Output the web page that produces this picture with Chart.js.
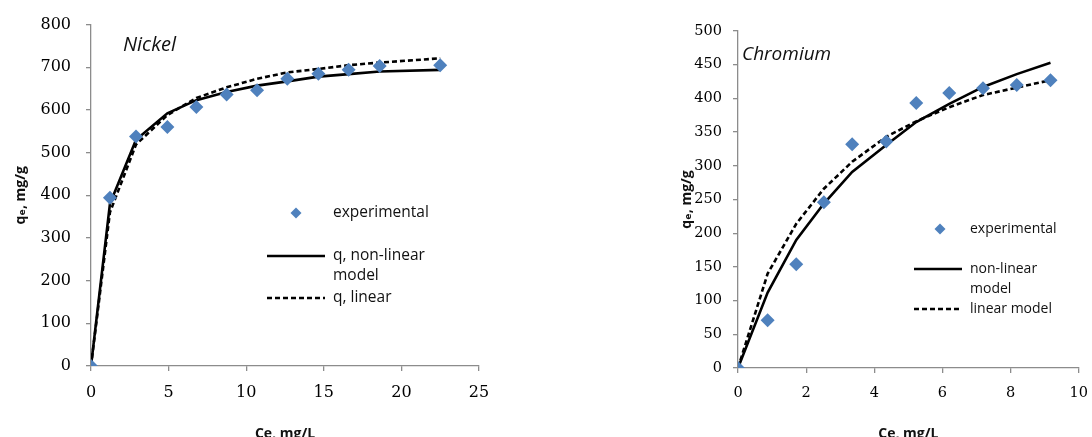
<!DOCTYPE html>
<html>
<head>
<meta charset="utf-8">
<script src="https://cdn.jsdelivr.net/npm/chart.js@4/dist/chart.umd.min.js"></script>
<style>
  html, body { margin: 0; padding: 0; background: #fff; overflow: hidden; width: 1092px; height: 437px; }
  .box { position: absolute; top: 0; height: 445px; }
  #nickelBox { left: 0; width: 560px; }
  #chromiumBox { left: 560px; width: 540px; }
</style>
</head>
<body>
<div class="box" id="nickelBox"><canvas id="nickelChart"></canvas></div>
<div class="box" id="chromiumBox"><canvas id="chromiumChart"></canvas></div>
<script>
// Nickel
const nickelCe = [0, 1.22, 2.9, 4.92, 6.79, 8.74, 10.7, 12.65, 14.65, 16.6, 18.6, 22.5];
const nickelExp = [0, 394, 538, 560, 607, 636, 646, 673, 685, 694, 703, 705];
const nickelNonLinear = [0, 380, 530, 592, 623, 642, 657, 667, 678, 684, 690, 694];
const nickelLinear = [0, 360, 519, 588, 628, 653, 673, 688, 696, 705, 711, 721];
const nickelXTicks = [0, 5, 10, 15, 20, 25];
const nickelYTicks = [0, 100, 200, 300, 400, 500, 600, 700, 800];

// Chromium
const chromiumCe = [0, 0.87, 1.71, 2.52, 3.35, 4.35, 5.23, 6.2, 7.19, 8.18, 9.17];
const chromiumExp = [0, 71, 154, 246, 332, 336, 393, 408, 415, 420, 427];
const chromiumNonLinear = [0, 112, 190, 244, 291, 331, 365, 392, 417, 436, 453];
const chromiumLinear = [0, 140, 214, 266, 306, 343, 366, 387, 405, 416, 427];
const chromiumXTicks = [0, 2, 4, 6, 8, 10];
const chromiumYTicks = [0, 50, 100, 150, 200, 250, 300, 350, 400, 450, 500];

const pts = (xs, ys) => xs.map((x, i) => ({ x: x, y: ys[i] }));
const axisGray = '#8c8c8c';
const markerBlue = '#4f81bd';

// draws the italic metal name and the in-plot legend
const overlayPlugin = {
  id: 'overlay',
  afterDraw(chart, args, opts) {
    const ctx = chart.ctx;
    ctx.save();
    ctx.fillStyle = '#111';
    ctx.textBaseline = 'middle';
    ctx.textAlign = 'left';
    ctx.font = 'italic ' + opts.titleSize + 'px "Open Sans"';
    ctx.fillText(opts.title, opts.titleX, opts.titleY);

    const lg = opts.legend;
    ctx.font = lg.size + 'px "Open Sans"';
    // experimental marker
    ctx.fillStyle = markerBlue;
    ctx.beginPath();
    ctx.moveTo(lg.markerX, lg.rows[0] - 5.5);
    ctx.lineTo(lg.markerX + 5.5, lg.rows[0]);
    ctx.lineTo(lg.markerX, lg.rows[0] + 5.5);
    ctx.lineTo(lg.markerX - 5.5, lg.rows[0]);
    ctx.closePath();
    ctx.fill();
    ctx.fillStyle = '#111';
    ctx.fillText('experimental', lg.textX, lg.rows[0]);

    ctx.strokeStyle = '#000';
    ctx.lineWidth = 2.5;
    ctx.beginPath();
    ctx.moveTo(lg.lineX0, lg.rows[1]);
    ctx.lineTo(lg.lineX1, lg.rows[1]);
    ctx.stroke();
    ctx.fillText(lg.labels[0], lg.textX, lg.rows[1]);
    ctx.fillText('model', lg.textX, lg.rows[2]);

    ctx.setLineDash([5, 3]);
    ctx.beginPath();
    ctx.moveTo(lg.lineX0, lg.rows[3]);
    ctx.lineTo(lg.lineX1, lg.rows[3]);
    ctx.stroke();
    ctx.setLineDash([]);
    ctx.fillText(lg.labels[1], lg.textX, lg.rows[3]);
    ctx.restore();
  }
};

const makeChart = (canvasId, cfg) => {
  const canvas = document.getElementById(canvasId);
  if (!canvas) {
    console.warn('Canvas ' + canvasId + ' not found.');
    return;
  }
  new Chart(canvas.getContext('2d'), {
    type: 'scatter',
    data: {
      datasets: [
        {
          label: 'experimental',
          data: pts(cfg.xs, cfg.exp),
          pointStyle: 'rectRot',
          pointRadius: 7,
          backgroundColor: markerBlue,
          borderColor: markerBlue,
          borderWidth: 0,
          showLine: false,
          order: 0,
        },
        {
          label: 'non-linear model',
          data: pts(cfg.xs, cfg.nonLinear),
          showLine: true,
          borderColor: '#000',
          borderWidth: 2.6,
          pointRadius: 0,
          tension: 0,
          order: 1,
        },
        {
          label: 'linear model',
          data: pts(cfg.xs, cfg.linear),
          showLine: true,
          borderColor: '#000',
          borderWidth: 2.6,
          borderDash: [5, 3],
          pointRadius: 0,
          tension: 0,
          order: 2,
        },
      ],
    },
    options: {
      responsive: true,
      maintainAspectRatio: false,
      animation: false,
      events: [],
      layout: { padding: cfg.padding },
      plugins: {
        legend: { display: false },
        tooltip: { enabled: false },
        overlay: cfg.overlay,
      },
      scales: {
        x: {
          type: 'linear',
          min: cfg.xTicks[0],
          max: cfg.xTicks[cfg.xTicks.length - 1],
          afterBuildTicks: (s) => { s.ticks = cfg.xTicks.map((v) => ({ value: v })); },
          afterFit: (s) => { s.height = cfg.xAxisHeight; },
          border: { color: axisGray, width: 1.3 },
          grid: { drawOnChartArea: false, color: axisGray, tickLength: 5, lineWidth: 1.3 },
          ticks: { color: '#000', padding: 12, font: { family: 'DejaVu Serif', size: cfg.tickSize }, maxRotation: 0 },
          title: {
            display: true,
            text: 'Ce, mg/L',
            color: '#111',
            font: { family: 'Open Sans', size: 14, weight: 'bold' },
            padding: { top: 0, bottom: 3 },
          },
        },
        y: {
          type: 'linear',
          min: cfg.yTicks[0],
          max: cfg.yTicks[cfg.yTicks.length - 1],
          afterBuildTicks: (s) => { s.ticks = cfg.yTicks.map((v) => ({ value: v })); },
          afterFit: (s) => { s.width = cfg.yAxisWidth; },
          border: { color: axisGray, width: 1.3 },
          grid: { drawOnChartArea: false, color: axisGray, tickLength: 5, lineWidth: 1.3 },
          ticks: { color: '#000', padding: cfg.yTickPad, font: { family: 'DejaVu Serif', size: cfg.tickSize } },
          title: {
            display: true,
            text: 'qₑ, mg/g',
            color: '#111',
            font: { family: '"Open Sans", "DejaVu Sans"', size: 14, weight: 'bold' },
            padding: { top: cfg.yTitlePad, bottom: 0 },
          },
        },
      },
    },
    plugins: [overlayPlugin],
  });
};

document.addEventListener('DOMContentLoaded', () => {
  makeChart('nickelChart', {
    xs: nickelCe, exp: nickelExp, nonLinear: nickelNonLinear, linear: nickelLinear,
    xTicks: nickelXTicks, yTicks: nickelYTicks,
    padding: { left: 0, right: 81, top: 20, bottom: 0 },
    xAxisHeight: 79, yAxisWidth: 91, yTickPad: 15, yTitlePad: 13, tickSize: 16,
    overlay: {
      title: 'Nickel', titleX: 123, titleY: 45, titleSize: 20,
      legend: {
        size: 15.5, markerX: 296, textX: 333, lineX0: 267, lineX1: 325,
        rows: [213, 256, 276, 298], labels: ['q, non-linear', 'q, linear'],
      },
    },
  });

  makeChart('chromiumChart', {
    xs: chromiumCe, exp: chromiumExp, nonLinear: chromiumNonLinear, linear: chromiumLinear,
    xTicks: chromiumXTicks, yTicks: chromiumYTicks,
    padding: { left: 110, right: 14, top: 31, bottom: 0 },
    xAxisHeight: 77, yAxisWidth: 68, yTickPad: 11, yTitlePad: 9, tickSize: 14.5,
    overlay: {
      title: 'Chromium', titleX: 182, titleY: 55, titleSize: 19,
      legend: {
        size: 14, markerX: 380, textX: 410, lineX0: 354, lineX1: 402,
        rows: [229, 269, 289, 309], labels: ['non-linear', 'linear model'],
      },
    },
  });
});
</script>
</body>
</html>
